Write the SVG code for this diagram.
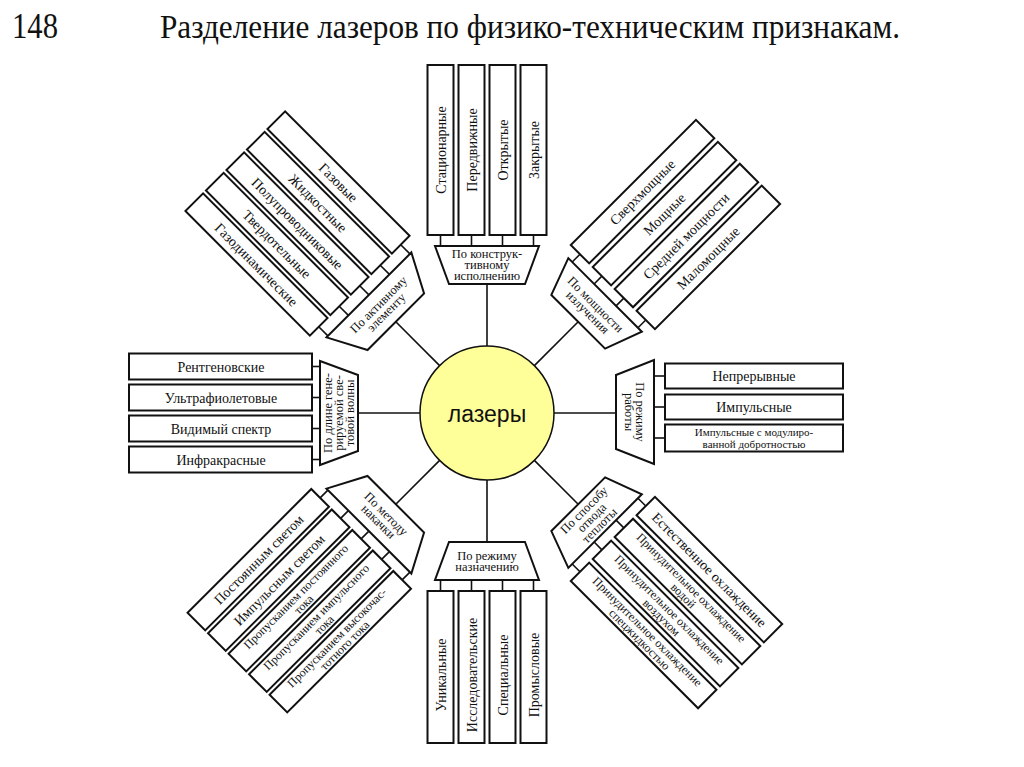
<svg xmlns="http://www.w3.org/2000/svg" width="1024" height="767" viewBox="0 0 1024 767">
<style>
.box{fill:#fff;stroke:#111;stroke-width:2}
.trap{fill:#fff;stroke:#111;stroke-width:2}
.conn line{stroke:#111;stroke-width:1.6}
.t{font-family:"Liberation Serif","Times New Roman",serif;fill:#111;text-anchor:middle}
.bt{font-size:14px}
.bt2{font-size:12px}
.bt3{font-size:11px}
.tt{font-size:12.5px}
</style>
<rect width="1024" height="767" fill="#fff"/>
<text x="12" y="38" font-family="Liberation Serif, serif" font-size="36" textLength="46" lengthAdjust="spacingAndGlyphs" fill="#111">148</text>
<text x="160" y="38" font-family="Liberation Serif, serif" font-size="33" textLength="740" lengthAdjust="spacingAndGlyphs" fill="#111">Разделение лазеров по физико-техническим признакам.</text>

<g id="connectors" class="conn">
<g transform="translate(487 413) rotate(-90)"><line x1="67" y1="0" x2="129" y2="0"/><line x1="167" y1="-46.5" x2="178" y2="-46.5"/><line x1="167" y1="-15.5" x2="178" y2="-15.5"/><line x1="167" y1="15.5" x2="178" y2="15.5"/><line x1="167" y1="46.5" x2="178" y2="46.5"/></g>
<g transform="translate(487 413) rotate(-45)"><line x1="67" y1="0" x2="129" y2="0"/><line x1="167" y1="-46.5" x2="178" y2="-46.5"/><line x1="167" y1="-15.5" x2="178" y2="-15.5"/><line x1="167" y1="15.5" x2="178" y2="15.5"/><line x1="167" y1="46.5" x2="178" y2="46.5"/></g>
<g transform="translate(487 413)"><line x1="67" y1="0" x2="129" y2="0"/><line x1="167" y1="-37" x2="178" y2="-37"/><line x1="167" y1="-6" x2="178" y2="-6"/><line x1="167" y1="25" x2="178" y2="25"/></g>
<g transform="translate(487 413) rotate(45)"><line x1="67" y1="0" x2="129" y2="0"/><line x1="167" y1="-46.5" x2="178" y2="-46.5"/><line x1="167" y1="-15.5" x2="178" y2="-15.5"/><line x1="167" y1="15.5" x2="178" y2="15.5"/><line x1="167" y1="46.5" x2="178" y2="46.5"/></g>
<g transform="translate(487 413) rotate(90)"><line x1="67" y1="0" x2="129" y2="0"/><line x1="167" y1="-46.5" x2="178" y2="-46.5"/><line x1="167" y1="-15.5" x2="178" y2="-15.5"/><line x1="167" y1="15.5" x2="178" y2="15.5"/><line x1="167" y1="46.5" x2="178" y2="46.5"/></g>
<g transform="translate(487 413) rotate(135)"><line x1="67" y1="0" x2="129" y2="0"/><line x1="167" y1="-58" x2="178" y2="-58"/><line x1="167" y1="-29" x2="178" y2="-29"/><line x1="167" y1="0" x2="178" y2="0"/><line x1="167" y1="29" x2="178" y2="29"/><line x1="167" y1="58" x2="178" y2="58"/></g>
<g transform="translate(487 413) rotate(180)"><line x1="67" y1="0" x2="129" y2="0"/><line x1="167" y1="-46.5" x2="175" y2="-46.5"/><line x1="167" y1="-15.5" x2="175" y2="-15.5"/><line x1="167" y1="15.5" x2="175" y2="15.5"/><line x1="167" y1="46.5" x2="175" y2="46.5"/></g>
<g transform="translate(487 413) rotate(-135)"><line x1="67" y1="0" x2="129" y2="0"/><line x1="167" y1="-58" x2="180" y2="-58"/><line x1="167" y1="-29" x2="180" y2="-29"/><line x1="167" y1="0" x2="180" y2="0"/><line x1="167" y1="29" x2="180" y2="29"/><line x1="167" y1="58" x2="180" y2="58"/></g>
</g>

<g id="n-center">
<circle cx="487" cy="413" r="67" fill="#FFFF99" stroke="#111" stroke-width="1.5"/>
<text x="487" y="422" font-family="Liberation Sans, Arial, sans-serif" font-size="23" text-anchor="middle" fill="#111">лазеры</text>
</g>

<!-- TOP -->
<g id="br-top" transform="translate(487 413) rotate(-90)">
<g id="n-top-cat"><polygon class="trap" points="129,-38 167,-52 167,52 129,38"/>
<text class="t tt" transform="translate(148 0) rotate(90)"><tspan x="0" y="-6.8">По конструк-</tspan><tspan x="0" y="4.2">тивному</tspan><tspan x="0" y="15.2">исполнению</tspan></text></g>
<g id="n-top-1"><rect class="box" x="178" y="-59.5" width="170" height="26"/><text class="t bt" transform="translate(263 -46.5)" y="5">Стационарные</text></g>
<g id="n-top-2"><rect class="box" x="178" y="-28.5" width="170" height="26"/><text class="t bt" transform="translate(263 -15.5)" y="5">Передвижные</text></g>
<g id="n-top-3"><rect class="box" x="178" y="2.5" width="170" height="26"/><text class="t bt" transform="translate(263 15.5)" y="5">Открытые</text></g>
<g id="n-top-4"><rect class="box" x="178" y="33.5" width="170" height="26"/><text class="t bt" transform="translate(263 46.5)" y="5">Закрытые</text></g>
</g>

<!-- TOP-RIGHT -->
<g id="br-topright" transform="translate(487 413) rotate(-45)">
<g id="n-tr-cat"><polygon class="trap" points="129,-38 167,-52 167,52 129,38"/>
<text class="t tt" transform="translate(148 0) rotate(90)"><tspan x="0" y="-1.3">По мощности</tspan><tspan x="0" y="9.7">излучения</tspan></text></g>
<g id="n-tr-1"><rect class="box" x="178" y="-59.5" width="177" height="26"/><text class="t bt" transform="translate(266 -46.5)" y="5">Сверхмощные</text></g>
<g id="n-tr-2"><rect class="box" x="178" y="-28.5" width="177" height="26"/><text class="t bt" transform="translate(266 -15.5)" y="5">Мощные</text></g>
<g id="n-tr-3"><rect class="box" x="178" y="2.5" width="177" height="26"/><text class="t bt" transform="translate(266 15.5)" y="5">Средней мощности</text></g>
<g id="n-tr-4"><rect class="box" x="178" y="33.5" width="177" height="26"/><text class="t bt" transform="translate(266 46.5)" y="5">Маломощные</text></g>
</g>

<!-- RIGHT -->
<g id="br-right" transform="translate(487 413)">
<g id="n-r-cat"><polygon class="trap" points="129,-38 167,-53 167,51 129,36"/>
<text class="t tt" transform="translate(148 -1) rotate(90)"><tspan x="0" y="-1.3">По режиму</tspan><tspan x="0" y="9.7">работы</tspan></text></g>
<g id="n-r-1"><rect class="box" x="178" y="-49.5" width="178" height="25"/><text class="t bt" transform="translate(267 -37)" y="5">Непрерывные</text></g>
<g id="n-r-2"><rect class="box" x="178" y="-18.5" width="178" height="25"/><text class="t bt" transform="translate(267 -6)" y="5">Импульсные</text></g>
<g id="n-r-3"><rect class="box" x="178" y="11.5" width="178" height="27"/><text class="t bt3" transform="translate(267 25)"><tspan x="0" y="-2.4">Импульсные с модулиро-</tspan><tspan x="0" y="10.2">ванной добротностью</tspan></text></g>
</g>

<!-- BOTTOM-RIGHT -->
<g id="br-bottomright" transform="translate(487 413) rotate(45)">
<g id="n-br-cat"><polygon class="trap" points="129,-38 167,-52 167,52 129,38"/>
<text class="t tt" transform="translate(148 0) rotate(-90)"><tspan x="0" y="-6.8">По способу</tspan><tspan x="0" y="4.2">отвода</tspan><tspan x="0" y="15.2">теплоты</tspan></text></g>
<g id="n-br-1"><rect class="box" x="178" y="-59.5" width="180" height="26"/><text class="t bt" transform="translate(268 -46.5)" y="5">Естественное охлаждение</text></g>
<g id="n-br-2"><rect class="box" x="178" y="-28.5" width="180" height="26"/><text class="t bt2" transform="translate(268 -15.5)"><tspan x="0" y="-1.3">Принудительное охлаждение</tspan><tspan x="0" y="9.7">водой</tspan></text></g>
<g id="n-br-3"><rect class="box" x="178" y="2.5" width="180" height="26"/><text class="t bt2" transform="translate(268 15.5)"><tspan x="0" y="-1.3">Принудительное охлаждение</tspan><tspan x="0" y="9.7">воздухом</tspan></text></g>
<g id="n-br-4"><rect class="box" x="178" y="33.5" width="180" height="26"/><text class="t bt2" transform="translate(268 46.5)"><tspan x="0" y="-1.3">Принудительное охлаждение</tspan><tspan x="0" y="9.7">спецжидкостью</tspan></text></g>
</g>

<!-- BOTTOM -->
<g id="br-bottom" transform="translate(487 413) rotate(90)">
<g id="n-b-cat"><polygon class="trap" points="129,-38 167,-52 167,52 129,38"/>
<text class="t tt" transform="translate(148 0) rotate(-90)"><tspan x="0" y="-1.3">По режиму</tspan><tspan x="0" y="9.7">назначению</tspan></text></g>
<g id="n-b-4"><rect class="box" x="178" y="-59.5" width="152" height="26"/><text class="t bt" transform="translate(262 -46.5) rotate(180)" y="5">Промысловые</text></g>
<g id="n-b-3"><rect class="box" x="178" y="-28.5" width="152" height="26"/><text class="t bt" transform="translate(262 -15.5) rotate(180)" y="5">Специальные</text></g>
<g id="n-b-2"><rect class="box" x="178" y="2.5" width="152" height="26"/><text class="t bt" transform="translate(262 15.5) rotate(180)" y="5">Исследовательские</text></g>
<g id="n-b-1"><rect class="box" x="178" y="33.5" width="152" height="26"/><text class="t bt" transform="translate(262 46.5) rotate(180)" y="5">Уникальные</text></g>
</g>

<!-- BOTTOM-LEFT -->
<g id="br-bottomleft" transform="translate(487 413) rotate(135)">
<g id="n-bl-cat"><polygon class="trap" points="129,-40 167,-60 167,60 129,40"/>
<text class="t tt" transform="translate(148 0) rotate(-90)"><tspan x="0" y="-1.3">По методу</tspan><tspan x="0" y="9.7">накачки</tspan></text></g>
<g id="n-bl-5"><rect class="box" x="178" y="-70.5" width="175" height="25"/><text class="t bt2" transform="translate(265 -58) rotate(180)"><tspan x="0" y="-1.3">Пропусканием высокочас-</tspan><tspan x="0" y="9.7">тотного тока</tspan></text></g>
<g id="n-bl-4"><rect class="box" x="178" y="-41.5" width="175" height="25"/><text class="t bt2" transform="translate(265 -29) rotate(180)"><tspan x="0" y="-1.3">Пропусканием импульсного</tspan><tspan x="0" y="9.7">тока</tspan></text></g>
<g id="n-bl-3"><rect class="box" x="178" y="-12.5" width="175" height="25"/><text class="t bt2" transform="translate(265 0) rotate(180)"><tspan x="0" y="-1.3">Пропусканием постоянного</tspan><tspan x="0" y="9.7">тока</tspan></text></g>
<g id="n-bl-2"><rect class="box" x="178" y="16.5" width="175" height="25"/><text class="t bt" transform="translate(265 29) rotate(180)" y="5">Импульсным светом</text></g>
<g id="n-bl-1"><rect class="box" x="178" y="45.5" width="175" height="25"/><text class="t bt" transform="translate(265 58) rotate(180)" y="5">Постоянным светом</text></g>
</g>

<!-- LEFT -->
<g id="br-left" transform="translate(487 413) rotate(180)">
<g id="n-l-cat"><polygon class="trap" points="129,-38 167,-52 167,52 129,38"/>
<text class="t tt" transform="translate(148 0) rotate(90)"><tspan x="0" y="-6.8">По длине гене-</tspan><tspan x="0" y="4.2">рируемой све-</tspan><tspan x="0" y="15.2">товой волны</tspan></text></g>
<g id="n-l-4"><rect class="box" x="175" y="-59.5" width="183" height="26"/><text class="t bt" transform="translate(266 -46.5) rotate(180)" y="5">Инфракрасные</text></g>
<g id="n-l-3"><rect class="box" x="175" y="-28.5" width="183" height="26"/><text class="t bt" transform="translate(266 -15.5) rotate(180)" y="5">Видимый спектр</text></g>
<g id="n-l-2"><rect class="box" x="175" y="2.5" width="183" height="26"/><text class="t bt" transform="translate(266 15.5) rotate(180)" y="5">Ультрафиолетовые</text></g>
<g id="n-l-1"><rect class="box" x="175" y="33.5" width="183" height="26"/><text class="t bt" transform="translate(266 46.5) rotate(180)" y="5">Рентгеновские</text></g>
</g>

<!-- TOP-LEFT -->
<g id="br-topleft" transform="translate(487 413) rotate(-135)">
<g id="n-tl-cat"><polygon class="trap" points="129,-40 167,-60 167,60 129,40"/>
<text class="t tt" transform="translate(148 0) rotate(90)"><tspan x="0" y="-1.3">По активному</tspan><tspan x="0" y="9.7">элементу</tspan></text></g>
<g id="n-tl-5"><rect class="box" x="180" y="-70.5" width="176" height="25"/><text class="t bt" transform="translate(268 -58) rotate(180)" y="5">Газодинамические</text></g>
<g id="n-tl-4"><rect class="box" x="180" y="-41.5" width="176" height="25"/><text class="t bt" transform="translate(268 -29) rotate(180)" y="5">Твердотельные</text></g>
<g id="n-tl-3"><rect class="box" x="180" y="-12.5" width="176" height="25"/><text class="t bt" transform="translate(268 0) rotate(180)" y="5">Полупроводниковые</text></g>
<g id="n-tl-2"><rect class="box" x="180" y="16.5" width="176" height="25"/><text class="t bt" transform="translate(268 29) rotate(180)" y="5">Жидкостные</text></g>
<g id="n-tl-1"><rect class="box" x="180" y="45.5" width="176" height="25"/><text class="t bt" transform="translate(268 58) rotate(180)" y="5">Газовые</text></g>
</g>
</svg>
